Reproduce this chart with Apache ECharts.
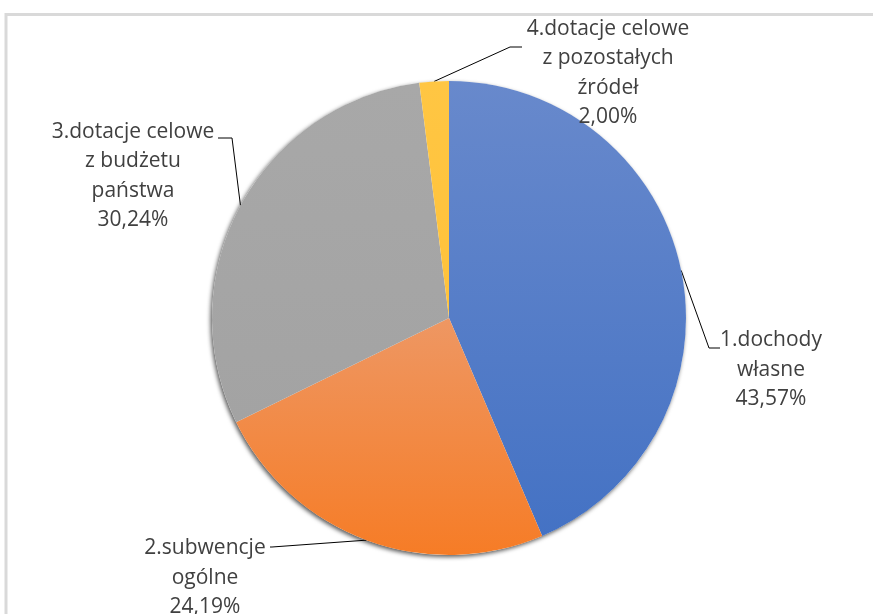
<!DOCTYPE html>
<html>
<head>
<meta charset="utf-8">
<script src="https://cdn.jsdelivr.net/npm/echarts@6/dist/echarts.min.js"></script>
<style>
html,body{margin:0;padding:0;background:#fff;}
#chart{width:873px;height:614px;}
</style>
</head>
<body>
<div id="chart"></div>
<script>
// ---- data ----
const categories = [
  '1.dochody\nwłasne',
  '2.subwencje\nogólne',
  '3.dotacje celowe\nz budżetu\npaństwa',
  '4.dotacje celowe\nz pozostałych\nźródeł'
];
const shares = [43.57, 24.19, 30.24, 2.00];

// ---- styling (not data) ----
const colorStops = [
  ['#6889cc', '#4472c4'],
  ['#ee9763', '#f67c26'],
  ['#a8a8a8', '#a3a3a3'],
  ['#ffc643', '#ffc23a']
];
// label centre and leader-line geometry (pixels)
const labelLayouts = [
  {x: 771, y: 370, elbow: [709, 348], end: [720, 348]},
  {x: 205, y: 578, elbow: [272, 547], end: [270, 547]},
  {x: 133, y: 176, elbow: [232, 138], end: [218, 138]},
  {x: 608, y: 73,  elbow: [510, 47],  end: [522, 47]}
];

const chart = echarts.init(document.getElementById('chart'), null, {renderer: 'canvas'});

const total = shares.reduce((a, b) => a + b, 0);
const center = [449, 318];
const radius = 237;

const data = categories.map((name, i) => ({
  name: name,
  value: shares[i],
  itemStyle: {
    color: new echarts.graphic.LinearGradient(0, 0, 0, 1, [
      {offset: 0, color: colorStops[i][0]},
      {offset: 1, color: colorStops[i][1]}
    ])
  }
}));

chart.setOption({
  animation: false,
  backgroundColor: '#fff',
  graphic: [{
    type: 'rect',
    shape: {x: 6, y: 14.5, width: 900, height: 700},
    style: {fill: 'none', stroke: '#d9d9d9', lineWidth: 3},
    z: -10,
    silent: true
  }],
  series: [
    {
      type: 'pie',
      silent: true,
      center: center,
      radius: radius,
      startAngle: 90,
      label: {show: false},
      labelLine: {show: false},
      itemStyle: {
        color: '#fff',
        shadowBlur: 4,
        shadowOffsetX: -1.5,
        shadowOffsetY: 2,
        shadowColor: 'rgba(0,0,0,0.65)'
      },
      data: [{value: total, name: 'backdrop'}],
      z: 1
    },
    {
      type: 'pie',
      center: center,
      radius: radius,
      startAngle: 90,
      clockwise: true,
      z: 2,
      itemStyle: {borderWidth: 0},
      label: {
        show: true,
        position: 'outside',
        formatter: p => p.name + '\n' + p.value.toFixed(2).replace('.', ',') + '%',
        color: '#404040',
        fontFamily: 'Open Sans',
        fontSize: 21,
        lineHeight: 29.5,
        align: 'center'
      },
      labelLine: {
        show: true,
        lineStyle: {color: '#000', width: 1}
      },
      labelLayout: function (p) {
        const cfg = labelLayouts[p.dataIndex];
        const start = p.labelLinePoints ? p.labelLinePoints[0] : cfg.elbow;
        return {
          x: cfg.x,
          y: cfg.y,
          align: 'center',
          verticalAlign: 'middle',
          labelLinePoints: [start, cfg.elbow, cfg.end]
        };
      },
      data: data
    }
  ]
});
</script>
</body>
</html>
